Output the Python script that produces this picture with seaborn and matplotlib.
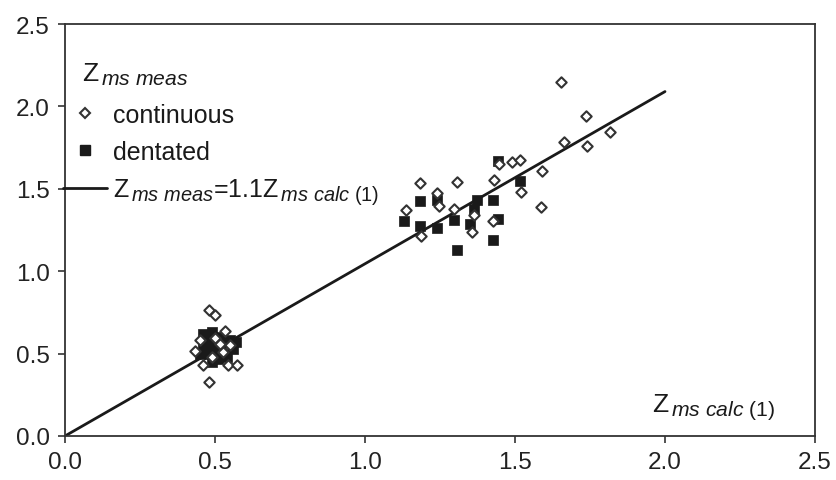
import matplotlib
matplotlib.use("Agg")
import matplotlib.pyplot as plt
import matplotlib._mathtext as _mt
import seaborn as sns
import pandas as pd
from matplotlib.lines import Line2D

# larger subscripts, as in the reference
_mt.SHRINK_FACTOR = 0.8

# ---- data ----
cont_x = [1.137, 1.183, 1.307, 1.24, 1.247, 1.297, 1.43, 1.49, 1.517, 1.447, 1.59, 1.52,
          1.587, 1.363, 1.357, 1.427, 1.187, 1.653, 1.737, 1.663, 1.74, 1.817,
          0.48, 0.50, 0.533, 0.433, 0.46, 0.48, 0.543, 0.573, 0.527, 0.50, 0.45, 0.55, 0.49, 0.515]
cont_y = [1.371, 1.535, 1.541, 1.474, 1.396, 1.377, 1.553, 1.663, 1.675, 1.65, 1.608, 1.48,
          1.39, 1.341, 1.238, 1.305, 1.214, 2.148, 1.942, 1.784, 1.76, 1.845,
          0.765, 0.734, 0.637, 0.516, 0.431, 0.328, 0.431, 0.431, 0.51, 0.595, 0.58, 0.55, 0.48, 0.56]

dent_x = [1.183, 1.13, 1.183, 1.24, 1.24, 1.297, 1.307, 1.373, 1.363, 1.35, 1.427, 1.443,
          1.427, 1.517, 1.443,
          0.46, 0.49, 0.47, 0.50, 0.52, 0.55, 0.57, 0.46, 0.48, 0.50, 0.53, 0.51, 0.49, 0.54,
          0.47, 0.52, 0.56, 0.45]
dent_y = [1.426, 1.305, 1.274, 1.262, 1.432, 1.311, 1.129, 1.432, 1.377, 1.286, 1.432, 1.317,
          1.189, 1.547, 1.669,
          0.62, 0.63, 0.58, 0.57, 0.55, 0.58, 0.57, 0.53, 0.50, 0.52, 0.50, 0.47, 0.45, 0.48,
          0.55, 0.60, 0.53, 0.50]

line_x = [0.0, 2.0]
line_y = [0.0, 2.09]

x_ticks = [0.0, 0.5, 1.0, 1.5, 2.0, 2.5]
y_ticks = [0.0, 0.5, 1.0, 1.5, 2.0, 2.5]

sns.set_style("ticks")
plt.rcParams['font.family'] = ['Liberation Sans', 'DejaVu Sans']
plt.rcParams['mathtext.fontset'] = 'custom'
plt.rcParams['mathtext.rm'] = 'Liberation Sans'
plt.rcParams['mathtext.it'] = 'Liberation Sans:italic'
plt.rcParams['mathtext.bf'] = 'Liberation Sans:bold'

ink = '#1a1a1a'
fig = plt.figure(figsize=(8.36, 4.81), dpi=100)
ax = fig.add_axes([65/836, 44/481, 750/836, 412/481])

df_c = pd.DataFrame({'x': cont_x, 'y': cont_y})
df_d = pd.DataFrame({'x': dent_x, 'y': dent_y})
df_l = pd.DataFrame({'x': line_x, 'y': line_y})

sns.lineplot(data=df_l, x='x', y='y', ax=ax, color=ink, linewidth=2.0, zorder=2)
sns.scatterplot(data=df_d, x='x', y='y', ax=ax, marker='s', s=44, color=ink,
                edgecolor=ink, linewidth=0.5, zorder=3)
sns.scatterplot(data=df_c, x='x', y='y', ax=ax, marker='D', s=28, facecolor='white',
                edgecolor='#333333', linewidth=1.5, zorder=4)

ax.set_xlim(0, 2.5)
ax.set_ylim(0, 2.5)
ax.set_xticks(x_ticks)
ax.set_yticks(y_ticks)
ax.set_xticklabels([f"{v:.1f}" for v in x_ticks])
ax.set_yticklabels([f"{v:.1f}" for v in y_ticks])
ax.set_xlabel('')
ax.set_ylabel('')
for sp in ax.spines.values():
    sp.set_visible(True)
    sp.set_color('#333333')
    sp.set_linewidth(1.3)
ax.tick_params(axis='both', direction='out', length=5, width=1.2, color='#333333',
               labelsize=17.5, labelcolor='#222222', pad=6)

ax.text(0.023, 0.862, r'Z$_{\,\mathit{ms\ meas}}$', transform=ax.transAxes,
        fontsize=19, color=ink, ha='left', va='baseline')
ax.text(0.783, 0.058, r'Z$_{\,\mathit{ms\ calc}\ \mathrm{(1)}}$', transform=ax.transAxes,
        fontsize=19, color=ink, ha='left', va='baseline')

handles = [
    Line2D([], [], marker='D', linestyle='none', markersize=5.2, markerfacecolor='white',
           markeredgecolor='#333333', markeredgewidth=1.5),
    Line2D([], [], marker='s', linestyle='none', markersize=6.8, color=ink),
    Line2D([], [], color=ink, linewidth=2.0),
]
labels = ['continuous', 'dentated',
          r'Z$_{\,\mathit{ms\ meas}}$=1.1Z$_{\,\mathit{ms\ calc}\ \mathrm{(1)}}$']
leg = ax.legend(handles, labels, loc='upper left', bbox_to_anchor=(-0.003, 0.808),
                frameon=False, fontsize=18, handlelength=1.75, handletextpad=0.25,
                labelspacing=0.52, borderaxespad=0, borderpad=0)
for t in leg.get_texts():
    t.set_color(ink)

fig.savefig('out.png', dpi=100)
